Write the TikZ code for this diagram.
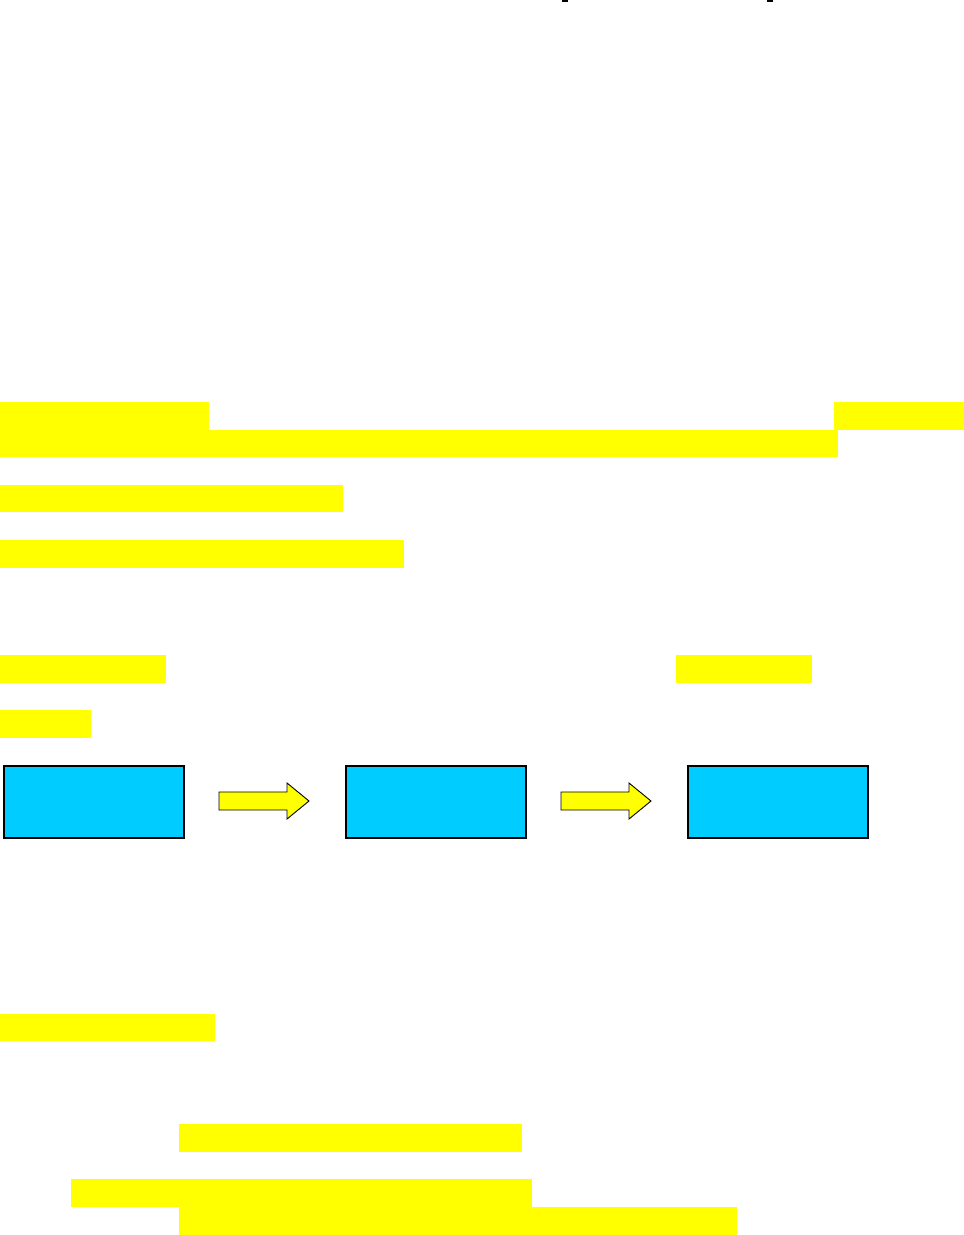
\documentclass[tikz,border=0pt]{standalone}
\usepackage{tikz}
\definecolor{hl}{HTML}{FFFF00}
\definecolor{boxblue}{HTML}{00CCFF}
\tikzset{
  hlbar/.style={fill=hl, draw=none},
  bluebox/.style={draw=black, line width=1.5pt, fill=boxblue, minimum width=180pt, minimum height=72pt, inner sep=0pt, anchor=north west},
  blockarrow/.style={draw=black, line width=0.9pt, fill=hl, line join=miter},
  tickmark/.style={fill=black, draw=none}
}
\begin{document}
\begin{tikzpicture}[x=1pt, y=-1pt]
\useasboundingbox[fill=white] (0,0) rectangle (964,1235);
% small marks at top edge
\fill[tickmark] (562,0) rectangle (568,2);
\fill[tickmark] (767,0) rectangle (773,2);
% highlight bars
\fill[hlbar] (0,402) rectangle (209,430);
\fill[hlbar] (834,402) rectangle (964,430);
\fill[hlbar] (0,430) rectangle (838,457);
\fill[hlbar] (0,485) rectangle (343,512);
\fill[hlbar] (0,540) rectangle (404,568);
\fill[hlbar] (0,655) rectangle (166,683);
\fill[hlbar] (676,655) rectangle (812,683);
\fill[hlbar] (0,710) rectangle (91,738);
\fill[hlbar] (0,1014) rectangle (215,1041);
\fill[hlbar] (179,1124) rectangle (522,1152);
\fill[hlbar] (71,1179) rectangle (532,1207);
\fill[hlbar] (179,1207) rectangle (737,1235);
% boxes
\node[bluebox] (b1) at (3,765) {};
\node[bluebox] (b2) at (345,765) {};
\node[bluebox] (b3) at (687,765) {};
% block arrows
\foreach \s in {219,561}{
  \draw[blockarrow] (\s,792) -- (\s+68,792) -- (\s+68,783) -- (\s+90,801)
    -- (\s+68,819) -- (\s+68,810) -- (\s,810) -- cycle;
}
\end{tikzpicture}
\end{document}
